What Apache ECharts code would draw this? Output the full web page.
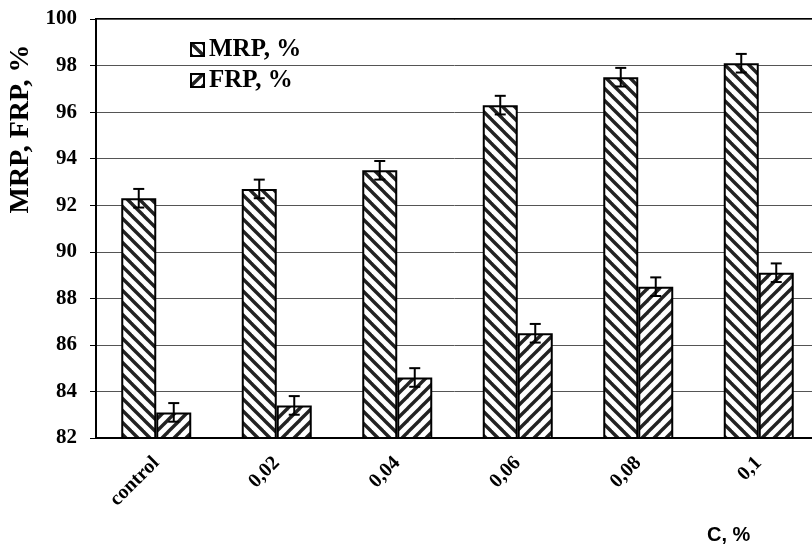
<!DOCTYPE html>
<html>
<head>
<meta charset="utf-8">
<script src="https://cdn.jsdelivr.net/npm/echarts@6/dist/echarts.min.js"></script>
<style>
  html, body { margin: 0; padding: 0; background: #fff; }
  #chart { width: 812px; height: 548px; }
</style>
</head>
<body>
<div id="chart"></div>
<script>
// Concentration levels and measured percentages
const categories = ['control', '0,02', '0,04', '0,06', '0,08', '0,1'];
const mrpValues = [92.3, 92.7, 93.5, 96.3, 97.5, 98.1];
const frpValues = [83.1, 83.4, 84.6, 86.5, 88.5, 89.1];
const mrpError = [0.4, 0.4, 0.4, 0.4, 0.4, 0.4];
const frpError = [0.4, 0.4, 0.4, 0.4, 0.4, 0.4];
const yTicks = [82, 84, 86, 88, 90, 92, 94, 96, 98, 100];

const BAR_W = 35;
const SERIF = '"Liberation Serif", "Times New Roman", serif';

// Diagonal hatch tiles: '\' for MRP, '/' for FRP
function hatch(back) {
  const s = 12;
  const c = document.createElement('canvas');
  c.width = s; c.height = s;
  const g = c.getContext('2d');
  g.fillStyle = '#fff';
  g.fillRect(0, 0, s, s);
  g.strokeStyle = '#222';
  g.lineWidth = 3.4;
  g.lineCap = 'square';
  for (const k of [-s, 0, s]) {
    g.beginPath();
    if (back) { g.moveTo(k, 0); g.lineTo(k + s, s); }
    else { g.moveTo(k, s); g.lineTo(k + s, 0); }
    g.stroke();
  }
  return { image: c, repeat: 'repeat' };
}

function errorSeries(name, values, errs, shift) {
  return {
    type: 'custom',
    name: name + '-err',
    z: 10,
    silent: true,
    data: values.map((v, i) => [i, v - errs[i], v + errs[i]]),
    renderItem: function (params, api) {
      const lo = api.coord([api.value(0), api.value(1)]);
      const hi = api.coord([api.value(0), api.value(2)]);
      const x = lo[0] + shift;
      const cap = 5.5;
      const st = { stroke: '#000', lineWidth: 2 };
      return {
        type: 'group',
        children: [
          { type: 'line', shape: { x1: x, y1: hi[1], x2: x, y2: lo[1] }, style: st },
          { type: 'line', shape: { x1: x - cap, y1: hi[1], x2: x + cap, y2: hi[1] }, style: st },
          { type: 'line', shape: { x1: x - cap, y1: lo[1], x2: x + cap, y2: lo[1] }, style: st }
        ]
      };
    }
  };
}

const chart = echarts.init(document.getElementById('chart'), null, { renderer: 'canvas' });

chart.setOption({
  animation: false,
  backgroundColor: '#fff',
  grid: {
    left: 96, top: 19, right: -7, bottom: 110,
    containLabel: false,
    outerBoundsMode: 'none',
    show: true, borderColor: '#000', borderWidth: 2, backgroundColor: 'transparent'
  },
  legend: {
    orient: 'vertical',
    left: 190,
    top: 37,
    padding: 0,
    icon: 'rect',
    itemWidth: 13,
    itemHeight: 13,
    itemGap: 6,
    data: ['MRP, %', 'FRP, %'],
    textStyle: { fontFamily: SERIF, fontWeight: 'bold', fontSize: 25, color: '#000', lineHeight: 24 }
  },
  xAxis: {
    type: 'category',
    data: categories,
    axisLine: { lineStyle: { color: '#000', width: 2 } },
    axisTick: { show: false },
    axisLabel: {
      rotate: 45, margin: 22, interval: 0,
      fontFamily: SERIF, fontWeight: 'bold', fontSize: 20, color: '#000'
    }
  },
  yAxis: {
    type: 'value',
    min: yTicks[0],
    max: yTicks[yTicks.length - 1],
    interval: yTicks[1] - yTicks[0],
    axisLine: { show: true, lineStyle: { color: '#000', width: 2 } },
    axisTick: { show: true, inside: false, length: 6, lineStyle: { color: '#000', width: 1 } },
    axisLabel: { margin: 19, fontFamily: SERIF, fontWeight: 'bold', fontSize: 21, color: '#000' },
    splitLine: { show: true, lineStyle: { color: '#555', width: 1 } }
  },
  series: [
    {
      name: 'MRP, %',
      type: 'bar',
      barWidth: BAR_W,
      barGap: '0%',
      data: mrpValues,
      itemStyle: { color: hatch(true), borderColor: '#000', borderWidth: 2 }
    },
    {
      name: 'FRP, %',
      type: 'bar',
      barWidth: BAR_W,
      barGap: '0%',
      data: frpValues,
      itemStyle: { color: hatch(false), borderColor: '#000', borderWidth: 2 }
    },
    errorSeries('MRP', mrpValues, mrpError, -BAR_W / 2),
    errorSeries('FRP', frpValues, frpError, BAR_W / 2)
  ],
  graphic: [
    {
      // value-axis title, placed beside the upper half of the axis
      type: 'text',
      x: 21,
      y: 129,
      rotation: Math.PI / 2,
      style: {
        text: 'MRP, FRP, %',
        fontFamily: SERIF,
        fontWeight: 'bold',
        fontSize: 28,
        fill: '#000',
        align: 'center',
        verticalAlign: 'middle'
      }
    },
    {
      type: 'text',
      left: 707,
      top: 525,
      style: {
        text: 'C, %',
        fontFamily: '"Liberation Sans", Arial, sans-serif',
        fontWeight: 'bold',
        fontSize: 20,
        fill: '#000'
      }
    }
  ]
});
</script>
</body>
</html>
